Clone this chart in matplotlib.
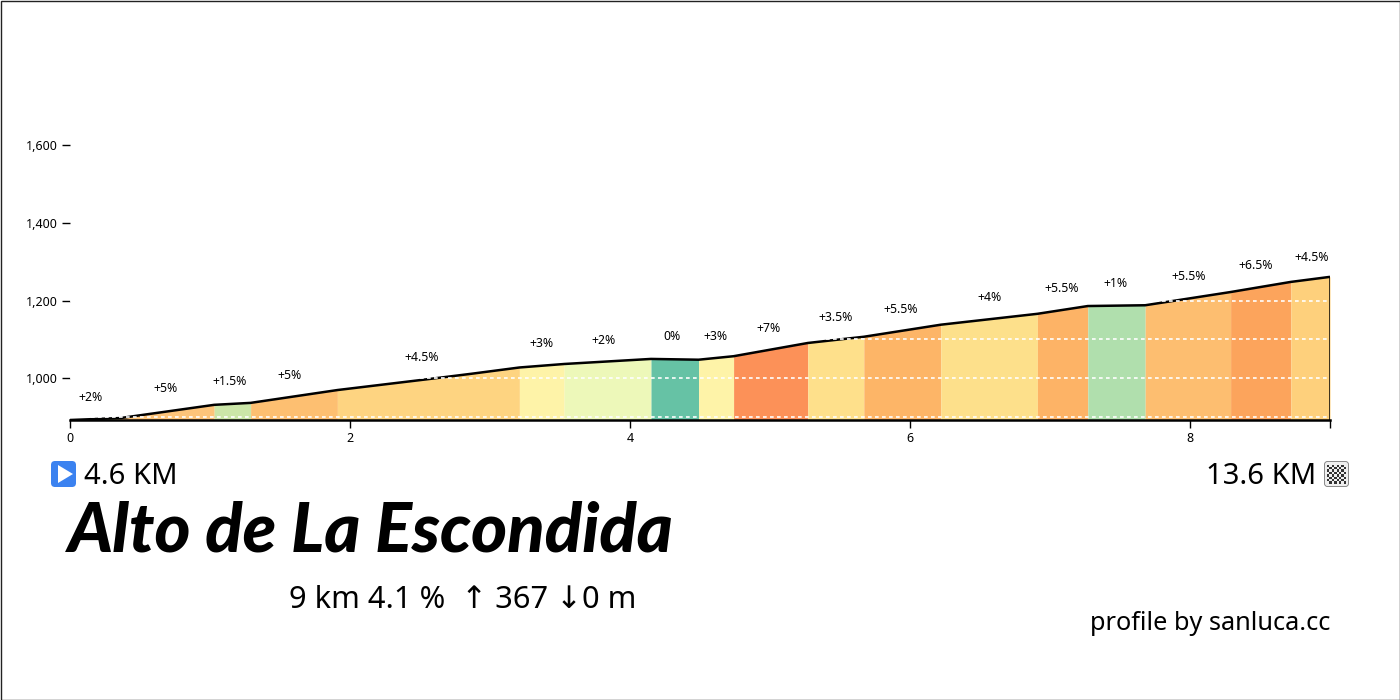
"""Climb profile for Alto de La Escondida."""
import matplotlib
matplotlib.use('Agg')
import matplotlib.pyplot as plt
from matplotlib.patches import FancyBboxPatch, Polygon, Rectangle

plt.rcParams['font.family'] = ['Noto Sans', 'DejaVu Sans']

# profile
km = [0, 0.36, 1.03, 1.29, 1.91, 2.58, 2.87, 3.21, 3.53, 4.15, 4.49, 4.74, 5.27,
      5.67, 6.22, 6.91, 7.27, 7.68, 8.29, 8.72, 9.0]
elevation = [893, 898, 932, 937, 970, 999, 1012, 1028, 1037, 1050, 1048, 1057, 1091,
             1107, 1138, 1166, 1186, 1188, 1222, 1248, 1261]

# gradient sections
seg_start = [0, 0.36, 1.03, 1.29, 1.91, 3.21, 3.53, 4.15, 4.49, 4.74, 5.27, 5.67,
             6.22, 6.91, 7.27, 7.68, 8.29, 8.72]
seg_end = seg_start[1:] + [9.0]
seg_colors = ['#fee8a0', '#fdc47a', '#cbe6a8', '#fdbf71', '#fed481', '#fef3a8', '#edf8b9',
              '#66c2a5', '#fef3a8', '#fc9158', '#fee08b', '#fdb567', '#fde08b', '#fdb366',
              '#b0dfad', '#fdbe70', '#fca45c', '#fed07c']

grade_labels = ['+2%', '+5%', '+1.5%', '+5%', '+4.5%', '+3%', '+2%', '0%', '+3%', '+7%',
                '+3.5%', '+5.5%', '+4%', '+5.5%', '+1%', '+5.5%', '+6.5%', '+4.5%']
label_km = [0.15, 0.68, 1.14, 1.57, 2.51, 3.37, 3.81, 4.30, 4.61, 4.99,
            5.47, 5.93, 6.57, 7.08, 7.47, 7.99, 8.47, 8.87]
label_elev = [950, 973, 991, 1007, 1053, 1089, 1097, 1107, 1107, 1127,
              1156, 1176, 1207, 1230, 1243, 1261, 1289, 1310]

y_ticks = [1000, 1200, 1400, 1600]
x_ticks = [0, 2, 4, 6, 8, 9]
x_tick_labels = ['0', '2', '4', '6', '8', '']
grid_levels = [900, 1000, 1100, 1200]

W, H = 1400, 700
fig = plt.figure(figsize=(14, 7), dpi=100, facecolor='white')
# axes placed in pixels: x 70-1330, y 145-420
ax = fig.add_axes([70 / W, 1 - 420 / H, 1260 / W, 275 / H])
ax.set_xlim(0, 9)
ax.set_ylim(893, 1600)
ax.patch.set_alpha(0)

for start, end, color in zip(seg_start, seg_end, seg_colors):
    xs = [k for k in km if start <= k <= end]
    ys = [e for k, e in zip(km, elevation) if start <= k <= end]
    ax.fill_between(xs, ys, 893, color=color, linewidth=0, zorder=1)

ax.plot(km, elevation, color='black', linewidth=1.8, zorder=2, solid_capstyle='butt')
ax.plot([9, 9], [893, elevation[-1]], color='black', linewidth=1.8, zorder=2)
for level in grid_levels:
    ax.axhline(level, color='white', linewidth=1.2, linestyle=(0, (2.2, 2)), zorder=3)

for x, y, label in zip(label_km, label_elev, grade_labels):
    ax.text(x, y, label, fontsize=8.8, ha='center', va='center', color='black')

for side in ['top', 'left', 'right']:
    ax.spines[side].set_visible(False)
ax.spines['bottom'].set_linewidth(1.8)
ax.spines['bottom'].set_zorder(4)
ax.set_xticks(x_ticks)
ax.set_xticklabels(x_tick_labels)
ax.set_yticks(y_ticks)
ax.set_yticklabels([f'{v:,}' for v in y_ticks])
ax.tick_params(axis='both', labelsize=9, length=6, width=1, pad=3)

# overlay in pixel coords for the captions and icons
ov = fig.add_axes([0, 0, 1, 1])
ov.set_xlim(0, W)
ov.set_ylim(H, 0)
ov.axis('off')
ov.patch.set_alpha(0)
ov.add_patch(Rectangle((0.5, 0.5), W - 1, H - 1, fill=False, edgecolor='#222222', linewidth=1))

# start icon
ov.add_patch(FancyBboxPatch((54, 464), 19, 20, boxstyle='round,pad=3,rounding_size=4',
                            facecolor='#3b82f0', edgecolor='none'))
ov.add_patch(Polygon([(58, 465), (58, 483), (73, 474)], facecolor='white', edgecolor='none'))

# finish icon
ov.add_patch(FancyBboxPatch((1327, 464), 19, 20, boxstyle='round,pad=2.5,rounding_size=3',
                            facecolor='#efefef', edgecolor='#888888', linewidth=0.7))
for row in range(8):
    for col in range(8):
        if (row + col) % 2 == 0:
            ov.add_patch(Rectangle((1327 + col * 2.4, 464.5 + row * 2.4), 2.4, 2.4,
                                   facecolor='#333333', edgecolor='none'))

ov.text(84, 477, '4.6 KM', fontsize=21, ha='left', va='center', color='black')
ov.text(1316, 477, '13.6 KM', fontsize=21, ha='right', va='center', color='black')
ov.text(68, 551, 'Alto de La Escondida', fontsize=49.5, family='Lato', fontweight='black',
        style='italic', ha='left', va='baseline', color='black')
ov.text(289, 600, '9 km 4.1 %  ↑ 367 ↓0 m', fontsize=22.2, ha='left', va='center', color='black')
ov.text(1330, 623, 'profile by sanluca.cc', fontsize=18.2, ha='right', va='center', color='black')

fig.savefig('out.png', dpi=100, facecolor='white')
